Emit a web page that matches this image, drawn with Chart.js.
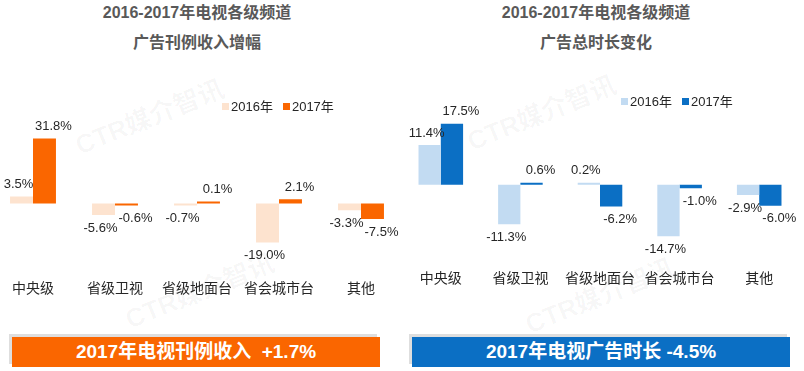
<!DOCTYPE html>
<html>
<head>
<meta charset="utf-8">
<script src="https://cdn.jsdelivr.net/npm/chart.js@4.4.1/dist/chart.umd.min.js"></script>
<style>
    html, body { margin: 0; padding: 0; background: #fff; }
    body { width: 804px; height: 371px; position: relative; overflow: hidden;
           font-family: "Liberation Sans", Arial, "Noto Sans CJK SC", sans-serif; }
    .title { position: absolute; top: -2px; width: 400px; text-align: center; color: #595959;
             font-weight: bold; font-size: 16px; line-height: 30px; }
    .legend { position: absolute; font-size: 13px; color: #262626; white-space: nowrap; }
    .legend span.sw { display: inline-block; width: 7px; height: 7px; margin-right: 2px; vertical-align: 1px; }
    .legend span.item { margin-right: 10px; }
    .banner { position: absolute; height: 30px; line-height: 30px; text-align: center; color: #fff;
              font-weight: bold; font-size: 19px; box-shadow: -3px -3px 0 #dedede; }
    .chart-box { position: absolute; top: 0; }
    .mark { position: absolute; font-size: 26px; font-weight: bold; color: rgba(0, 0, 0, 0.035);
            white-space: nowrap; transform: rotate(-22deg); transform-origin: center; }
</style>
</head>
<body>
<div class="mark" style="left:70px; top:96px;">CTR媒介智讯</div>
<div class="mark" style="left:120px; top:270px;">CTR媒介智讯</div>
<div class="mark" style="left:462px; top:92px;">CTR媒介智讯</div>
<div class="mark" style="left:520px; top:275px;">CTR媒介智讯</div>

<div class="title" style="left:-3px;">2016-2017年电视各级频道<br>广告刊例收入增幅</div>
<div class="title" style="left:396px;">2016-2017年电视各级频道<br>广告总时长变化</div>

<div class="chart-box" style="left:-8px; width:410px; height:300px;"><canvas id="chart-income"></canvas></div>
<div class="chart-box" style="left:401px; width:398px; height:290px;"><canvas id="chart-duration"></canvas></div>

<div class="legend" id="legend-income" style="left:222px; top:96px;"></div>
<div class="legend" id="legend-duration" style="left:621px; top:91px;"></div>

<div class="banner" style="left:12px; top:337px; width:368px; background:#fa6600;">2017年电视刊例收入&nbsp;&nbsp;+1.7%</div>
<div class="banner" style="left:412px; top:337px; width:378px; background:#0b6fc4;">2017年电视广告时长 -4.5%</div>

<script>
const categories = ['中央级', '省级卫视', '省级地面台', '省会城市台', '其他'];
const seriesNames = ['2016年', '2017年'];

// 广告刊例收入增幅 (%)
const income2016 = [3.5, -5.6, -0.7, -19.0, -3.3];
const income2017 = [31.8, -0.6, 0.1, 2.1, -7.5];

// 广告总时长变化 (%)
const duration2016 = [11.4, -11.3, 0.2, -14.7, -2.9];
const duration2017 = [17.5, 0.6, -6.2, -1.0, -6.0];

const incomeColors = ['#fde3cf', '#fa6600'];
const durationColors = ['#c2dbf2', '#0b6fc4'];

// value labels at bar ends, 2016 nudged left and 2017 nudged right like the original
const valueLabels = {
    id: 'valueLabels',
    afterDatasetsDraw(chart) {
        const ctx = chart.ctx;
        ctx.save();
        ctx.font = '13px "Liberation Sans", Arial, sans-serif';
        ctx.fillStyle = '#262626';
        ctx.textAlign = 'center';
        ctx.textBaseline = 'middle';
        chart.data.datasets.forEach((ds, di) => {
            const meta = chart.getDatasetMeta(di);
            const shift = di === 0 ? -3 : 9;
            meta.data.forEach((bar, i) => {
                const v = ds.data[i];
                const y = v >= 0 ? Math.min(bar.y, bar.base - 2) - 12 : Math.max(bar.y, bar.base + 2) + 13;
                ctx.fillText(v.toFixed(1) + '%', bar.x + shift, y);
            });
        });
        ctx.restore();
    }
};

function makeChart(id, a, b, colors, yMin, yMax, padTop) {
    const ctx = document.getElementById(id);
    return new Chart(ctx, {
        type: 'bar',
        data: {
            labels: categories,
            datasets: [
                { label: seriesNames[0], data: a, backgroundColor: colors[0] },
                { label: seriesNames[1], data: b, backgroundColor: colors[1] },
            ],
        },
        options: {
            responsive: true,
            maintainAspectRatio: false,
            animation: false,
            layout: { padding: { top: padTop, left: 0, right: 0, bottom: 0 } },
            datasets: { bar: { barPercentage: 1, categoryPercentage: 0.56, minBarLength: 2 } },
            plugins: {
                legend: { display: false },
                tooltip: { enabled: false },
            },
            scales: {
                x: {
                    grid: { display: false, drawTicks: false },
                    border: { display: false },
                    ticks: {
                        color: '#262626',
                        padding: 4,
                        maxRotation: 0,
                        autoSkip: false,
                        font: { size: 14, family: '"Noto Sans CJK SC", sans-serif' },
                    },
                },
                y: { display: false, min: yMin, max: yMax },
            },
        },
        plugins: [valueLabels],
    });
}

function buildLegend(id, colors) {
    const el = document.getElementById(id);
    el.innerHTML = seriesNames.map((name, i) =>
        `<span class="item"><span class="sw" style="background:${colors[i]}"></span>${name}</span>`
    ).join('');
}

makeChart('chart-income', income2016, income2017, incomeColors, -35, 35, 132);
makeChart('chart-duration', duration2016, duration2017, durationColors, -23, 20, 115);
buildLegend('legend-income', incomeColors);
buildLegend('legend-duration', durationColors);
</script>
</body>
</html>
